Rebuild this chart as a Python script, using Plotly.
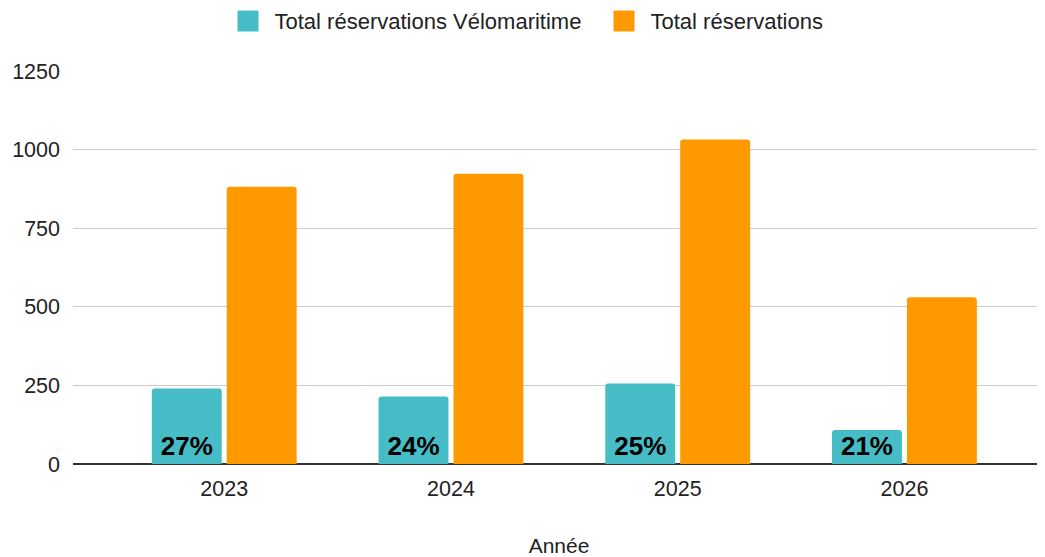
import plotly.graph_objects as go

annees = ["2023", "2024", "2025", "2026"]
velomaritime = [240, 215, 256, 108]
total = [882, 923, 1032, 530]
pourcentages = ["27%", "24%", "25%", "21%"]
y_ticks = [0, 250, 500, 750, 1000, 1250]

TEAL = "#46BDC6"
ORANGE = "#FF9900"
FONT = "Arial, Liberation Sans, sans-serif"

# page body has an 8px default margin: figure coordinates = screen - 8
W, H = 1037, 549

fig = go.Figure()
fig.add_trace(go.Bar(
    x=annees, y=velomaritime, name="Total réservations Vélomaritime",
    marker=dict(color=TEAL, line=dict(width=0)),
    text=pourcentages, textposition="inside", insidetextanchor="start",
    textangle=0, constraintext="none",
    textfont=dict(family=FONT, size=26, color="#000000", weight="bold"),
    showlegend=False, hoverinfo="skip",
))
fig.add_trace(go.Bar(
    x=annees, y=total, name="Total réservations",
    marker=dict(color=ORANGE, line=dict(width=0)),
    showlegend=False, hoverinfo="skip",
))
# legend swatches
fig.add_trace(go.Scatter(x=[None], y=[None], mode="markers", name="Total réservations Vélomaritime",
                         marker=dict(symbol="square", size=16, color=TEAL,
                                     line=dict(color=TEAL, width=5))))
fig.add_trace(go.Scatter(x=[None], y=[None], mode="markers", name="Total réservations",
                         marker=dict(symbol="square", size=16, color=ORANGE,
                                     line=dict(color=ORANGE, width=5))))

fig.update_layout(
    width=W, height=H,
    margin=dict(l=65, r=0, t=63, b=93, autoexpand=False),
    paper_bgcolor="white", plot_bgcolor="white",
    barmode="group", bargap=0.339, bargroupgap=0.067,
    barcornerradius=3,
    font=dict(family=FONT, color="#222222", size=21),
    legend=dict(orientation="h", x=0.2059, xanchor="left", xref="container",
                y=1.127, yanchor="middle", yref="paper",
                font=dict(size=22, color="#222222"),
                itemsizing="trace", itemwidth=43,
                entrywidth=318, entrywidthmode="pixels"),
    xaxis=dict(type="category", range=[-0.667, 3.62], showgrid=False, automargin=False,
               tickfont=dict(size=21.5, color="#222222"), ticks="", showline=False,
               ticklabelstandoff=9,
               title=dict(text="Année", font=dict(size=21, color="#222222"), standoff=44)),
    yaxis=dict(range=[0, 1250], tickvals=y_ticks, showgrid=True, gridcolor="#CCCCCC",
               gridwidth=1, zeroline=True, zerolinecolor="#333333", zerolinewidth=2,
               automargin=False,
               tickfont=dict(size=21.5, color="#222222"), ticks="", showline=False,
               ticklabelstandoff=12),
)

fig.write_html("out.html")
